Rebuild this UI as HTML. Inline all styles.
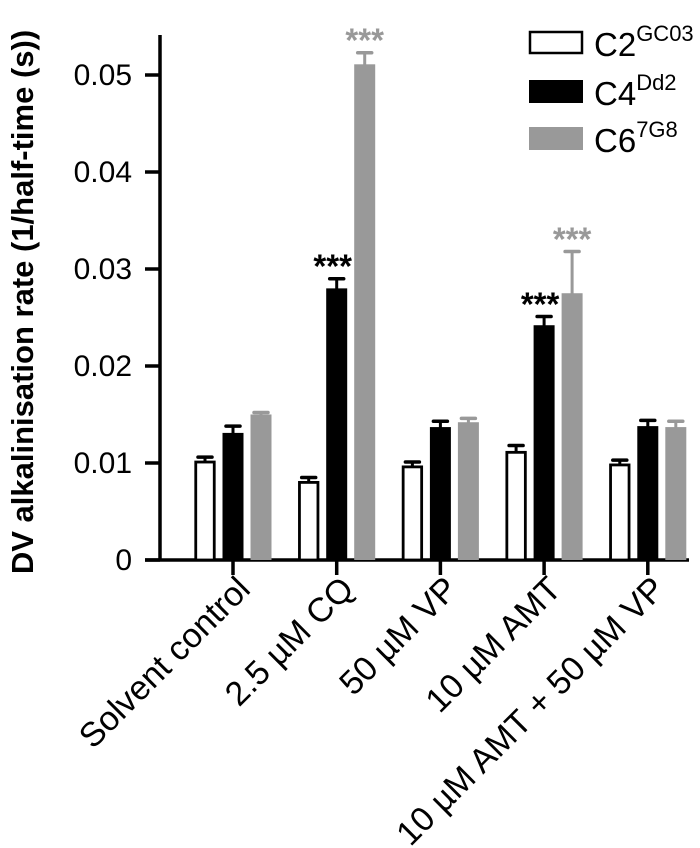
<!DOCTYPE html>
<html><head><meta charset="utf-8"><style>
html,body{margin:0;padding:0;background:#fff;}
svg{display:block;font-family:"Liberation Sans",Arial,sans-serif;}
</style></head><body>
<svg id="chart" width="700" height="848" viewBox="0 0 700 848">
<g id="axes"></g>
<g id="bars"></g>
<g id="legend">
<rect x="530" y="32" width="52" height="21" fill="#fff" stroke="#000" stroke-width="2.5"/>
<text x="594" y="56" font-size="33">C2<tspan dy="-15" font-size="22">GC03</tspan></text>
<rect x="529" y="80" width="54" height="23" fill="#000"/>
<text x="594" y="105" font-size="33">C4<tspan dy="-15" font-size="22">Dd2</tspan></text>
<rect x="529" y="127" width="54" height="23" fill="#999"/>
<text x="594" y="152" font-size="33">C6<tspan dy="-15" font-size="22">7G8</tspan></text>
</g>
<text transform="translate(33,302) rotate(-90)" text-anchor="middle" font-size="31" font-weight="bold">DV alkalinisation rate (1/half-time (s))</text>
</svg>
<script>
const categories = ["Solvent control","2.5 µM CQ","50 µM VP","10 µM AMT","10 µM AMT + 50 µM VP"];
const seriesNames = ["C2GC03","C4Dd2","C67G8"];
const c2Values = [0.0101,0.0080,0.0096,0.0111,0.0098];
const c4Values = [0.0130,0.0279,0.0136,0.0241,0.0137];
const c6Values = [0.0149,0.0510,0.0141,0.0274,0.0136];
const c2Errors = [0.0005,0.0005,0.0005,0.0007,0.0005];
const c4Errors = [0.0008,0.0011,0.0007,0.0010,0.0007];
const c6Errors = [0.0003,0.0013,0.0005,0.0044,0.0007];
const c4Stars = ["","***","","***",""];
const c6Stars = ["","***","","***",""];
const yTicks = [0,0.01,0.02,0.03,0.04,0.05];
const yTickLabels = ["0","0.01","0.02","0.03","0.04","0.05"];

const NS="http://www.w3.org/2000/svg";
const x0=160, base=560, pxPer=9700, firstC=233, step=103.7, bw=21;
const yS=v=>base-v*pxPer;
const xC=i=>firstC+i*step;
function mk(tag,attrs,parent){const e=document.createElementNS(NS,tag);for(const k in attrs)e.setAttribute(k,attrs[k]);parent.appendChild(e);return e;}
const axes=document.getElementById('axes'), bars=document.getElementById('bars');

let l=mk('line',{x1:x0,y1:35,x2:x0,y2:base+1,stroke:'#000','stroke-width':3.5},axes);


l=mk('line',{x1:145,y1:base,x2:689,y2:base,stroke:'#000','stroke-width':3.5},axes);


yTicks.forEach((v,i)=>{
  const t=mk('line',{x1:145,y1:yS(v),x2:x0,y2:yS(v),stroke:'#000','stroke-width':3.5},axes);
  
  
  const tx=mk('text',{x:132,y:yS(v)+10,'text-anchor':'end','font-size':30},axes);
  tx.textContent=yTickLabels[i];
  
  
});
categories.forEach((c,i)=>{
  const t=mk('line',{x1:xC(i),y1:base,x2:xC(i),y2:base+15,stroke:'#000','stroke-width':3.5},axes);
  
  
  const tx=mk('text',{transform:`translate(${xC(i)+2},${base+14}) rotate(-45)`,'text-anchor':'end','font-size':34,'dominant-baseline':'hanging'},axes);
  tx.textContent=c;
  
  
});
const series=[
 {vals:c2Values,err:c2Errors,off:-28,fill:'#fff',stroke:'#000',errCol:'#000',stars:null},
 {vals:c4Values,err:c4Errors,off:0,fill:'#000',stroke:'none',errCol:'#000',stars:c4Stars},
 {vals:c6Values,err:c6Errors,off:28,fill:'#999',stroke:'none',errCol:'#999',stars:c6Stars}
];
series.forEach((s,si)=>{
  s.vals.forEach((v,i)=>{
    const cx=xC(i)+s.off, top=yS(v), etop=yS(v+s.err[i]);
    const e1=mk('line',{x1:cx,y1:top,x2:cx,y2:etop,stroke:s.errCol,'stroke-width':3},bars);
    
    
    const e2=mk('line',{x1:cx-7,y1:etop,x2:cx+7,y2:etop,stroke:s.errCol,'stroke-width':3.5,'stroke-linecap':'round'},bars);
    
    
    let r;
    if(s.stroke!=='none'){
      r=mk('rect',{x:cx-bw/2+1.25,y:top,width:bw-2.5,height:base-top,fill:s.fill,stroke:s.stroke,'stroke-width':2.8},bars);
    } else {
      r=mk('rect',{x:cx-bw/2,y:top-1,width:bw,height:base-top+1,fill:s.fill},bars);
    }
    
    
    if(s.stars && s.stars[i]){
      const st=mk('text',{x:cx-(si===1?4:0),y:etop-1,'text-anchor':'middle','font-size':33,'font-weight':'bold',fill:s.errCol},bars);
      st.textContent=s.stars[i];
      
      
    }
  });
});
</script>
</body></html>
